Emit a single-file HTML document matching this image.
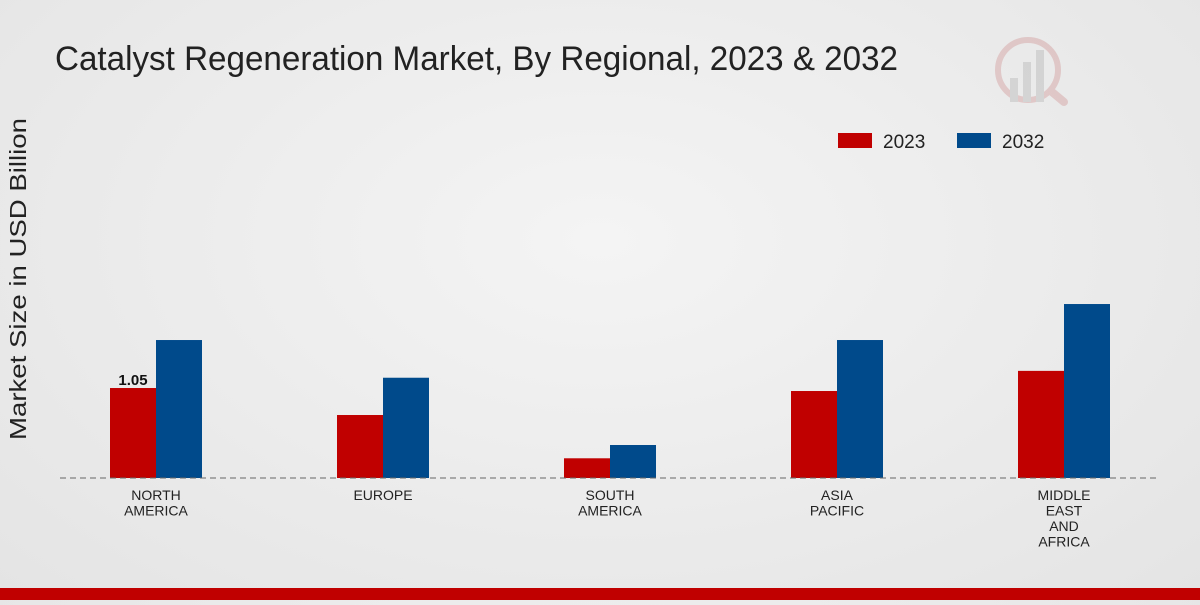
<!DOCTYPE html>
<html><head><meta charset="utf-8"><style>
body{margin:0;width:1200px;height:600px;overflow:hidden;background:radial-gradient(ellipse at 50% 40%,#f4f4f4,#e4e4e4);font-family:"Liberation Sans",sans-serif}
</style></head><body>
<svg width="1200" height="600" xmlns="http://www.w3.org/2000/svg">
<text x="55" y="70" font-size="34" fill="#222" textLength="843" lengthAdjust="spacingAndGlyphs">Catalyst Regeneration Market, By Regional, 2023 &amp; 2032</text>
<g opacity="0.35">
<circle cx="1028" cy="70" r="30" fill="none" stroke="#c88" stroke-width="6"/>
<rect x="1010" y="78" width="8" height="24" fill="#aaa"/><rect x="1023" y="62" width="8" height="40" fill="#aaa"/><rect x="1036" y="50" width="8" height="52" fill="#aaa"/>
<line x1="1052" y1="92" x2="1064" y2="102" stroke="#c88" stroke-width="8" stroke-linecap="round"/>
</g>
<g>
<rect x="838" y="133" width="34" height="15" fill="#c00000"/>
<text x="883" y="148" font-size="19" fill="#222">2023</text>
<rect x="957" y="133" width="34" height="15" fill="#004a8b"/>
<text x="1002" y="148" font-size="19" fill="#222">2032</text>
</g>
<text transform="translate(26,279) rotate(-90)" text-anchor="middle" font-size="23" fill="#222" textLength="322" lengthAdjust="spacingAndGlyphs">Market Size in USD Billion</text>
<g id="bars"></g>
<line x1="60" y1="478" x2="1160" y2="478" stroke="#666" stroke-dasharray="6,4"/>
<g id="labels"></g>
<rect x="0" y="588" width="1200" height="12" fill="#c00000"/>
</svg>
<script>
const categories=[["NORTH","AMERICA"],["EUROPE"],["SOUTH","AMERICA"],["ASIA","PACIFIC"],["MIDDLE","EAST","AND","AFRICA"]];
const values2023=[1.05,0.735,0.23,1.015,1.25];
const values2032=[1.61,1.17,0.385,1.61,2.03];
const base=478,scale=85.7,x0=156,step=227,bw=46;
const yS=v=>base-v*scale;
const NS="http://www.w3.org/2000/svg";
const bars=document.getElementById('bars'),labels=document.getElementById('labels');
categories.forEach((c,i)=>{
 const cx=x0+i*step;
 [[values2023,"#c00000",cx-bw,"2023"],[values2032,"#004a8b",cx,"2032"]].forEach(([arr,col,x,s])=>{
  const r=document.createElementNS(NS,'rect');
  r.setAttribute('x',x);r.setAttribute('y',yS(arr[i]));r.setAttribute('width',bw);r.setAttribute('height',arr[i]*scale);r.setAttribute('fill',col);
  
  
  bars.appendChild(r);
 });
 c.forEach((line,j)=>{
  const t=document.createElementNS(NS,'text');
  t.setAttribute('x',cx);t.setAttribute('y',500+j*15.5);t.setAttribute('text-anchor','middle');t.setAttribute('font-size','14');t.setAttribute('fill','#222');
  t.textContent=line;
  
  
  labels.appendChild(t);
 });
});
const vl=document.createElementNS(NS,'text');
vl.setAttribute('x',x0-bw/2);vl.setAttribute('y',yS(values2023[0])-3);vl.setAttribute('text-anchor','middle');vl.setAttribute('font-size','15');vl.setAttribute('font-weight','bold');vl.setAttribute('fill','#111');
vl.textContent=values2023[0].toFixed(2);


labels.appendChild(vl);
</script>
</body></html>
